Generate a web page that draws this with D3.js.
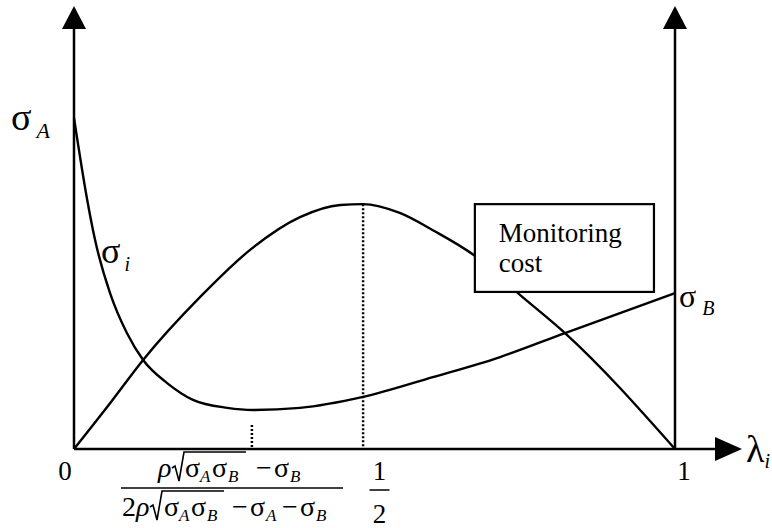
<!DOCTYPE html>
<html>
<head>
<meta charset="utf-8">
<script src="https://cdn.jsdelivr.net/npm/d3@7"></script>
<style>
  body { margin: 0; background: #fff; }
  svg text { font-family: "Liberation Serif", "Times New Roman", serif; }
</style>
</head>
<body>
<script>
// curve values (lambda on x, arbitrary units on y)
const sigmaLambda = [0, 0.022, 0.035, 0.060, 0.088, 0.115, 0.155, 0.198, 0.255, 0.298, 0.376, 0.481, 0.597, 0.709, 0.817, 1.0];
const sigmaValues = [78.8, 59.3, 49.8, 37.1, 27.6, 21.2, 15.7, 11.7, 9.8, 9.3, 9.8, 12.4, 17.1, 21.9, 27.6, 37.1];

const costLambda = [0, 0.060, 0.115, 0.210, 0.293, 0.376, 0.443, 0.481, 0.542, 0.597, 0.667, 0.742, 0.817, 1.0];
const costValues = [0, 10.9, 21.2, 36.2, 47.4, 55.2, 58.1, 58.3, 56.2, 52.1, 46.0, 36.7, 27.6, 0];

// dotted guides: lambda and height where they stop
const guideLambda = [0.296, 0.481];
const guideTop = [5.7, 58.3];

const tickLambda = [0, 1];
const tickLabels = ["0", "1"];

const FONT = "Liberation Serif";

let margin = null, width = null, height = null;
let svg = null;
let x, y = null;

setupCanvasSize();
appendSvg("body");
setupScales();
appendAxes();
appendGuides();
appendCurves();
appendBox();
appendLabels();
appendFraction();

function setupCanvasSize() {
  margin = {top: 29, left: 74, bottom: 79, right: 97};
  width = 772 - margin.left - margin.right;
  height = 528 - margin.top - margin.bottom;
}

function appendSvg(domElement) {
  svg = d3.select(domElement).append("svg")
    .attr("width", 772)
    .attr("height", 528);
}

function txt(parent, px, py, size) {
  return parent.append("text")
    .attr("x", px).attr("y", py)
    .attr("font-family", FONT)
    .attr("font-size", size);
}

function setupScales() {
  x = d3.scaleLinear().domain([0, 1]).range([margin.left, margin.left + width]);
  y = d3.scaleLinear().domain([0, 100]).range([margin.top + height, margin.top]);
}

function appendAxes() {
  const x0 = x(0), x1 = x(1), y0 = y(0), yTop = y(100);
  const g = svg.append("g").attr("stroke", "#000").attr("stroke-width", 2.5);
  g.append("line").attr("x1", x0).attr("x2", 716).attr("y1", y0).attr("y2", y0);
  g.append("line").attr("x1", x0).attr("x2", x0).attr("y1", y0).attr("y2", yTop);
  g.append("line").attr("x1", x1).attr("x2", x1).attr("y1", y0).attr("y2", yTop);

  // arrow heads
  const arrows = svg.append("g").attr("fill", "#000");
  arrows.append("path").attr("d", `M${x0},6 L${x0 - 12},${yTop} L${x0 + 12},${yTop} Z`);
  arrows.append("path").attr("d", `M${x1},6 L${x1 - 12},${yTop} L${x1 + 12},${yTop} Z`);
  arrows.append("path").attr("d", `M742,${y0} L715,${y0 - 12} L715,${y0 + 12} Z`);
}

function appendGuides() {
  svg.append("g").selectAll("line")
    .data(guideLambda)
    .join("line")
    .attr("x1", d => x(d)).attr("x2", d => x(d))
    .attr("y1", (d, i) => y(guideTop[i])).attr("y2", y(0))
    .attr("stroke", "#000")
    .attr("stroke-width", 2.5)
    .attr("stroke-dasharray", "2,2");
}

function appendCurves() {
  const line = d3.line()
    .x(d => x(d[0]))
    .y(d => y(d[1]))
    .curve(d3.curveMonotoneX);

  svg.append("path")
    .datum(d3.zip(costLambda, costValues))
    .attr("d", line)
    .attr("fill", "none").attr("stroke", "#000").attr("stroke-width", 2.4);

  svg.append("path")
    .datum(d3.zip(sigmaLambda, sigmaValues))
    .attr("d", line)
    .attr("fill", "none").attr("stroke", "#000").attr("stroke-width", 2.4);
}

function appendBox() {
  const bx = x(0.667), by = y(58.3);
  const bw = x(0.965) - bx, bh = y(37.4) - by;
  svg.append("rect")
    .attr("x", bx).attr("y", by).attr("width", bw).attr("height", bh)
    .attr("fill", "#fff").attr("stroke", "#000").attr("stroke-width", 2.2);
  txt(svg, bx + 24, by + 38, 27).text("Monitoring");
  txt(svg, bx + 24, by + 68, 27).text("cost");
}

function symbol(px, py, main, sub, mainSize, subSize, subDx, subDy) {
  const t = txt(svg, px, py, mainSize);
  t.append("tspan").text(main);
  t.append("tspan").attr("dx", subDx).attr("dy", subDy)
    .attr("font-size", subSize).attr("font-style", "italic").text(sub);
}

function appendLabels() {
  symbol(11, 130, "σ", "A", 38, 22, 5, 8);
  symbol(101, 263, "σ", "i", 36, 20, 4, 8);
  symbol(679, 307, "σ", "B", 32, 20, 6, 8);
  symbol(746, 462, "λ", "i", 38, 20, 0, 6);

  svg.append("g").selectAll("text")
    .data(tickLambda)
    .join("text")
    .attr("x", (d, i) => x(d) + (i === 0 ? -9 : 9))
    .attr("y", 480)
    .attr("text-anchor", "middle")
    .attr("font-family", FONT)
    .attr("font-size", 27)
    .text((d, i) => tickLabels[i]);

  // one half
  const hx = x(0.5) + 5;
  txt(svg, hx, 480, 27).attr("text-anchor", "middle").text("1");
  svg.append("line").attr("x1", hx - 10).attr("x2", hx + 10).attr("y1", 490).attr("y2", 490)
    .attr("stroke", "#000").attr("stroke-width", 1.5);
  txt(svg, hx, 523, 27).attr("text-anchor", "middle").text("2");
}

// pieces of the fraction: [text, left x, size, italic, sub]
function row(baseline, pieces) {
  pieces.forEach(p => {
    txt(svg, p[1], baseline + (p[4] ? 5 : 0), p[2])
      .attr("font-style", p[3] ? "italic" : "normal")
      .text(p[0]);
  });
}

function radical(x0, xEnd, baseline) {
  const top = baseline - 25;
  svg.append("path")
    .attr("d", `M${x0},${baseline - 9} L${x0 + 3},${baseline - 11} L${x0 + 7},${baseline + 4} L${x0 + 12},${top} L${xEnd},${top}`)
    .attr("fill", "none").attr("stroke", "#000").attr("stroke-width", 1.6);
}

function appendFraction() {
  const S = 28, s = 17;
  row(477, [
    ["ρ", 158, S, true],
    ["σ", 185, S], ["A", 200, s, true, true],
    ["σ", 212, S], ["B", 228, s, true, true],
    ["−", 256, S], ["σ", 274, S], ["B", 290, s, true, true]
  ]);
  radical(172, 246, 477);

  svg.append("line").attr("x1", 121).attr("x2", 343).attr("y1", 488).attr("y2", 488)
    .attr("stroke", "#000").attr("stroke-width", 1.6);

  row(516, [
    ["2", 122, S],
    ["ρ", 136, S, true],
    ["σ", 164, S], ["A", 179, s, true, true],
    ["σ", 191, S], ["B", 207, s, true, true],
    ["−", 232, S], ["σ", 250, S], ["A", 266, s, true, true],
    ["−", 282, S], ["σ", 300, S], ["B", 316, s, true, true]
  ]);
  radical(150, 224, 516);
}
</script>
</body>
</html>
